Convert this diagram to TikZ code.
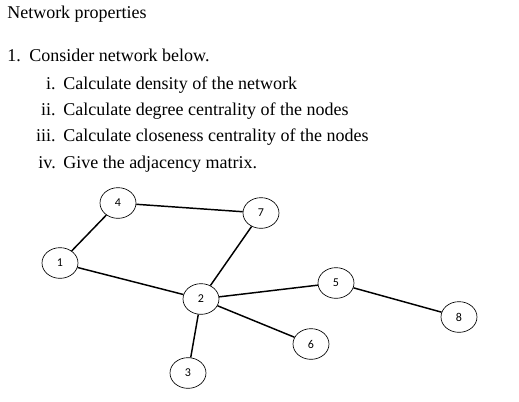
\documentclass[tikz,border=0pt]{standalone}
\usepackage{fontspec}
\setmainfont{Liberation Serif}
\newfontfamily\labelfont{Carlito}
\usetikzlibrary{shapes.geometric}
\begin{document}
\begin{tikzpicture}[x=0.75pt,y=-0.75pt,
 vertex/.style={draw,ellipse,line width=0.5pt,minimum width=27pt,minimum height=23pt,inner sep=0pt,font=\labelfont\fontsize{9}{10}\selectfont},
 link/.style={line width=1.1pt},
 txt/.style={anchor=base west,inner sep=0pt,font=\fontsize{13.5}{15}\selectfont},
 num/.style={anchor=base east,inner sep=0pt,font=\fontsize{13.5}{15}\selectfont}]
 \useasboundingbox (0,0) rectangle (519,401);
 % question text
 \node[txt] (title) at (7,18) {Network properties};
 \node[txt] (q) at (7,61) {1.};
 \node[txt] (qtext) at (29,61) {Consider network below.};
 \node[num] (ni) at (56,89) {i.};
 \node[txt] (ti) at (63,89) {Calculate density of the network};
 \node[num] (nii) at (56,115) {ii.};
 \node[txt] (tii) at (63,115) {Calculate degree centrality of the nodes};
 \node[num] (niii) at (56,141) {iii.};
 \node[txt] (tiii) at (63,141) {Calculate closeness centrality of the nodes};
 \node[num] (niv) at (56,168) {iv.};
 \node[txt] (tiv) at (63,168) {Give the adjacency matrix.};
 % the network
 \node[vertex] (n1) at (60,263) {1};
 \node[vertex] (n2) at (201,299) {2};
 \node[vertex] (n3) at (188,373) {3};
 \node[vertex] (n4) at (118,203) {4};
 \node[vertex] (n5) at (336,283) {5};
 \node[vertex] (n6) at (311,344) {6};
 \node[vertex] (n7) at (261,213) {7};
 \node[vertex] (n8) at (459,317) {8};
 \draw[link] (n4)--(n7);
 \draw[link] (n4)--(n1);
 \draw[link] (n1)--(n2);
 \draw[link] (n7)--(n2);
 \draw[link] (n2)--(n3);
 \draw[link] (n2)--(n5);
 \draw[link] (n2)--(n6);
 \draw[link] (n5)--(n8);
\end{tikzpicture}
\end{document}
